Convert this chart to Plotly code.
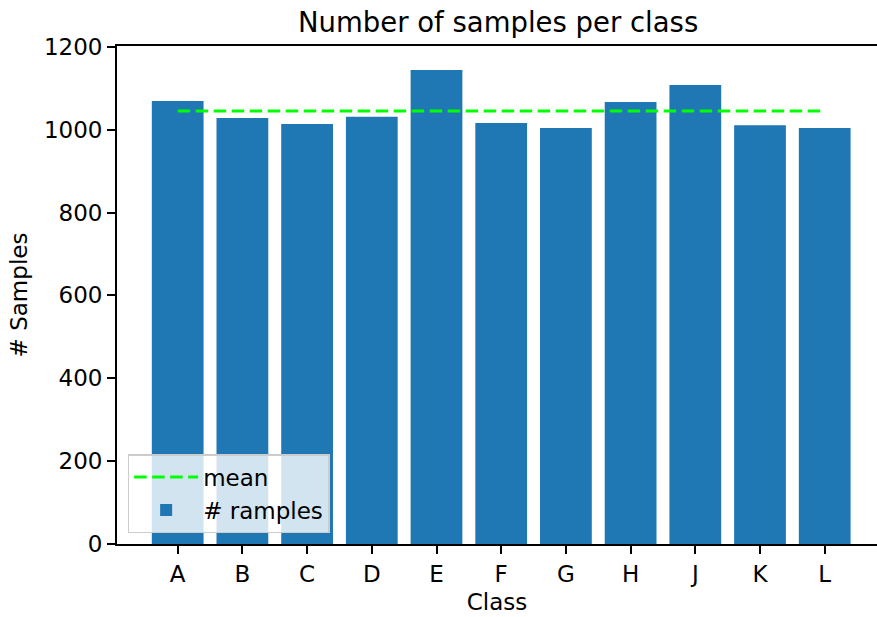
import plotly.graph_objects as go

# Class counts
classes = ["A", "B", "C", "D", "E", "F", "G", "H", "J", "K", "L"]
samples = [1069, 1028, 1014, 1031, 1144, 1016, 1004, 1067, 1108, 1011, 1004]
y_ticks = [0, 200, 400, 600, 800, 1000, 1200]

mean_val = sum(samples) / len(samples)

FONT = "DejaVu Sans, sans-serif"
FS = 23
fig = go.Figure()

fig.add_trace(go.Scatter(
    x=[classes[0], classes[-1]], y=[mean_val, mean_val],
    mode="lines", name="mean",
    line=dict(color="#00ff00", width=3.2, dash="12.5px,5.5px"),
))
fig.add_trace(go.Bar(
    x=classes, y=samples, name="# ramples",
    marker=dict(color="#1f77b4", line=dict(width=0)),
))

fig.update_layout(
    width=877, height=617,
    margin=dict(l=117, r=0, t=46, b=73),
    plot_bgcolor="white", paper_bgcolor="white",
    bargap=0.2,
    font=dict(family=FONT, size=FS, color="black"),
    title=dict(text="Number of samples per class", x=0.5015, xref="paper",
               xanchor="center", y=0.963, yanchor="middle",
               font=dict(size=27.5, family=FONT, color="black")),
    legend=dict(
        x=0.014, y=0.022, xanchor="left", yanchor="bottom",
        bgcolor="rgba(255,255,255,0.8)", bordercolor="#cccccc", borderwidth=1.5,
        font=dict(size=FS, family=FONT), itemwidth=64, traceorder="normal",
    ),
    showlegend=True,
)

fig.update_xaxes(
    type="category", categoryorder="array", categoryarray=classes,
    range=[-0.938, 10.808], showline=True, linecolor="black", linewidth=1.8,
    mirror=True, ticks="outside", ticklen=8, tickwidth=1.8, tickcolor="black",
    showgrid=False, zeroline=False,
    title=dict(text="Class", standoff=8, font=dict(size=FS, family=FONT)),
    tickfont=dict(size=FS, family=FONT),
)
fig.update_yaxes(
    range=[0, 1202], tickvals=y_ticks, showline=True, linecolor="black",
    linewidth=1.8, ticks="outside", ticklen=8, tickwidth=1.8, tickcolor="black",
    showgrid=False, zeroline=False,
    title=dict(text="# Samples", standoff=10, font=dict(size=FS, family=FONT)),
    tickfont=dict(size=FS, family=FONT),
)

fig.write_html("out.html")
